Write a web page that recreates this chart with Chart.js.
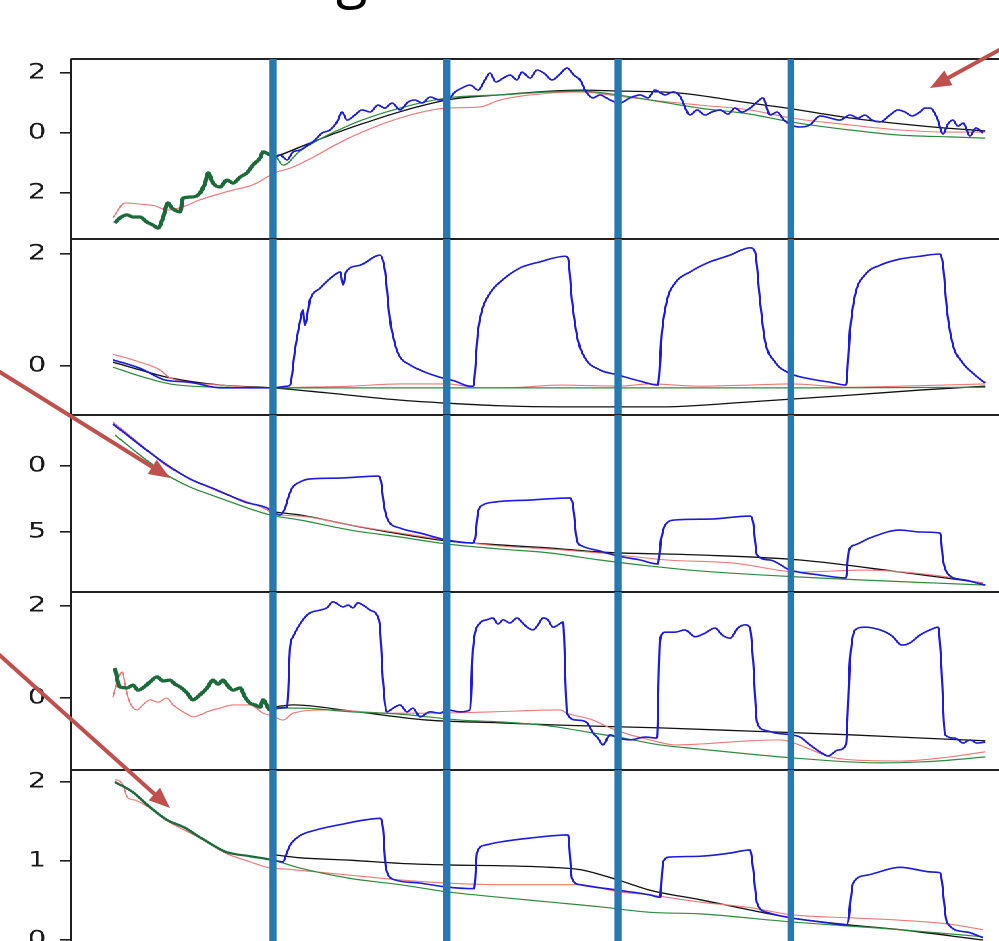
<!DOCTYPE html>
<html><head><meta charset="utf-8">
<script src="https://cdn.jsdelivr.net/npm/chart.js@4.4.1/dist/chart.umd.min.js"></script>
<style>
html,body{margin:0;padding:0;background:#fff;overflow:hidden;width:999px;height:941px;}
#fig{position:absolute;left:0;top:0;width:740px;height:1000px;transform:scaleX(1.35);transform-origin:0 0;}
.panel{position:absolute;left:0;width:740px;}
#overlay{position:absolute;left:0;top:0;width:999px;height:941px;pointer-events:none;overflow:visible;}
</style></head><body>
<div id="fig"></div>
<svg id="overlay" width="999" height="941" viewBox="0 0 999 941"></svg>
<script>
// ---------- DATA ----------
const X_MIN = -29, X_MAX = 899;
const segmentX = [173, 347, 518, 691];

const p1Ticks = [2, 0, -2],  p1TickLabels = ['2', '0', '2'];
const p2Ticks = [2, 0],      p2TickLabels = ['2', '0'];
const p3Ticks = [0, -5],     p3TickLabels = ['0', '5'];
const p4Ticks = [2, 0],      p4TickLabels = ['2', '0'];
const p5Ticks = [2, 1, 0],   p5TickLabels = ['2', '1', '0'];

// Panel 1
const p1Green = [[15,-3.0],[20,-2.83],[27,-2.73],[33,-2.8],[40,-2.8],[47,-2.97],[53,-3.07],[58,-3.17],[63,-2.83],[68,-2.33],[72,-2.5],[80,-2.63],[83,-2.17],[93,-2.13],[100,-2.0],[105,-1.67],[108,-1.33],[113,-1.67],[120,-1.8],[127,-1.57],[133,-1.67],[140,-1.47],[147,-1.33],[153,-1.07],[160,-0.83],[163,-0.63],[170,-0.73],[177,-0.83],[183,-1.07],[200,-0.6],[250,0.27],[300,0.83],[347,1.17],[400,1.27],[450,1.37],[480,1.4],[518,1.27],[550,1.1],[600,0.83],[650,0.63],[691,0.37],[750,0.1],[800,-0.07],[850,-0.13],[885,-0.17]];
const p1Red = [[13,-2.83],[25,-2.33],[40,-2.37],[55,-2.43],[67,-2.57],[82,-2.47],[100,-2.23],[133,-1.9],[153,-1.73],[167,-1.47],[177,-1.3],[190,-1.17],[200,-1.03],[250,-0.15],[300,0.5],[347,0.83],[380,0.87],[400,1.1],[450,1.33],[480,1.37],[518,1.23],[550,1.1],[600,0.93],[650,0.77],[691,0.5],[750,0.27],[800,0.1],[850,0.03],[885,0.03]];
const p1Black = [[173,-0.83],[250,0.17],[347,1.1],[400,1.27],[480,1.43],[518,1.4],[580,1.33],[650,1.0],[687,0.83],[750,0.5],[833,0.2],[885,0.07]];
const p1Blue = [[173,-0.83],[180,-0.73],[187,-0.9],[193,-0.63],[200,-0.57],[208,-0.4],[215,-0.23],[222,0.0],[230,0.1],[237,0.37],[242,0.7],[247,0.43],[255,0.6],[262,0.77],[270,0.7],[278,0.93],[285,0.83],[292,1.0],[300,0.77],[308,1.03],[315,1.1],[322,1.0],[330,1.2],[340,1.1],[347,1.1],[355,1.37],[362,1.5],[370,1.6],[378,1.43],[385,1.77],[390,2.0],[396,1.7],[403,1.83],[410,1.93],[417,1.77],[422,2.03],[430,1.83],[437,2.1],[445,1.97],[452,1.77],[460,1.97],[467,2.17],[474,1.93],[480,1.77],[486,1.37],[493,1.17],[500,1.27],[510,1.1],[520,1.0],[530,1.17],[540,1.27],[548,1.17],[555,1.43],[565,1.27],[573,1.37],[580,1.23],[590,0.6],[597,0.77],[605,0.6],[612,0.7],[620,0.77],[628,0.63],[635,0.83],[642,0.7],[650,0.83],[657,1.03],[663,1.17],[670,0.6],[677,0.7],[684,0.43],[691,0.27],[700,0.2],[710,0.27],[720,0.57],[730,0.5],[740,0.43],[750,0.6],[758,0.5],[765,0.6],[772,0.43],[780,0.37],[790,0.6],[798,0.77],[805,0.7],[812,0.57],[820,0.7],[825,0.83],[830,0.83],[837,0.5],[843,-0.03],[848,0.3],[853,0.43],[858,0.23],[863,0.33],[870,-0.1],[876,0.17],[883,0.0]];

// Panel 2
const p2Green = [[13,-0.02],[40,-0.18],[70,-0.32],[120,-0.38],[173,-0.39],[300,-0.39],[500,-0.39],[700,-0.39],[885,-0.38]];
const p2Black = [[13,0.07],[40,-0.07],[67,-0.2],[120,-0.34],[173,-0.39],[227,-0.48],[300,-0.61],[343,-0.66],[400,-0.71],[460,-0.73],[560,-0.73],[650,-0.64],[750,-0.52],[820,-0.43],[885,-0.36]];
const p2Red = [[13,0.21],[40,0.07],[60,-0.07],[70,-0.21],[120,-0.34],[173,-0.39],[200,-0.38],[250,-0.36],[300,-0.32],[347,-0.32],[380,-0.39],[420,-0.38],[460,-0.34],[518,-0.36],[550,-0.32],[600,-0.36],[650,-0.34],[691,-0.32],[750,-0.38],[800,-0.36],[885,-0.32]];
const p2Blue = [[13,0.11],[40,-0.04],[65,-0.25],[90,-0.29],[120,-0.39],[173,-0.39],[187,-0.36],[190,-0.34],[195,0.29],[200,0.79],[203,1.0],[205,0.73],[210,1.18],[220,1.39],[235,1.63],[240,1.68],[243,1.45],[246,1.68],[260,1.8],[280,1.98],[285,1.71],[290,0.82],[295,0.38],[300,0.16],[310,0.02],[325,-0.11],[340,-0.2],[355,-0.27],[370,-0.36],[373,-0.36],[378,0.64],[382,1.0],[390,1.3],[400,1.5],[420,1.75],[440,1.86],[465,1.96],[468,1.93],[472,1.18],[478,0.46],[485,0.14],[500,-0.07],[518,-0.16],[540,-0.27],[558,-0.34],[562,0.64],[567,1.18],[575,1.48],[590,1.68],[610,1.86],[630,1.98],[650,2.11],[655,2.04],[660,1.18],[665,0.46],[675,0.07],[691,-0.14],[710,-0.23],[730,-0.29],[746,-0.34],[750,0.64],[755,1.27],[765,1.63],[780,1.8],[800,1.91],[820,1.96],[840,2.0],[843,1.8],[847,1.0],[853,0.38],[862,0.07],[875,-0.16],[885,-0.3]];

// Panel 3
const p3Green = [[15,2.35],[40,0.83],[67,-0.68],[90,-1.59],[117,-2.35],[145,-3.11],[170,-3.71],[200,-4.09],[250,-4.85],[300,-5.38],[347,-5.91],[400,-6.29],[450,-6.59],[500,-7.12],[550,-7.58],[600,-7.95],[700,-8.41],[833,-8.86],[885,-9.02]];
const p3Black = [[173,-3.48],[200,-3.71],[250,-4.47],[300,-5.15],[347,-5.68],[400,-5.98],[450,-6.21],[500,-6.52],[600,-6.74],[700,-7.12],[800,-8.03],[883,-8.86]];
const p3Red = [[13,3.33],[40,1.67],[67,0.0],[117,-1.89],[167,-3.33],[173,-3.64],[200,-3.79],[250,-4.47],[300,-5.08],[347,-5.61],[400,-6.06],[450,-6.29],[500,-6.59],[567,-7.12],[633,-7.35],[700,-8.03],[767,-7.88],[833,-8.26],[883,-8.86]];
const p3Blue = [[13,3.18],[40,1.59],[67,0.08],[90,-0.98],[117,-1.82],[145,-2.73],[167,-3.18],[173,-3.48],[180,-3.71],[185,-3.18],[188,-2.42],[192,-1.67],[200,-1.21],[210,-0.98],[240,-0.91],[278,-0.76],[281,-1.14],[284,-2.95],[288,-4.09],[300,-4.7],[320,-5.08],[347,-5.61],[372,-5.83],[375,-5.45],[378,-3.48],[383,-2.95],[395,-2.73],[430,-2.58],[470,-2.42],[473,-2.95],[477,-5.61],[482,-6.06],[500,-6.44],[518,-6.82],[540,-7.12],[558,-7.42],[561,-5.61],[565,-4.47],[575,-4.09],[610,-4.02],[650,-3.79],[653,-4.24],[657,-6.74],[670,-7.12],[690,-7.88],[720,-8.26],[746,-8.48],[749,-6.36],[755,-5.98],[770,-5.45],[800,-4.85],[820,-5.0],[840,-5.08],[843,-7.12],[848,-8.18],[865,-8.64],[885,-9.02]];

// Panel 4
const p4Green = [[15,0.65],[20,0.24],[27,0.22],[33,0.28],[38,0.17],[43,0.22],[50,0.35],[57,0.46],[63,0.37],[70,0.39],[75,0.3],[80,0.24],[87,0.11],[93,-0.04],[100,0.07],[107,0.22],[113,0.39],[118,0.3],[123,0.39],[128,0.26],[133,0.17],[140,0.22],[145,0.02],[150,-0.11],[155,-0.15],[160,-0.2],[163,-0.04],[170,-0.26],[183,-0.22],[200,-0.22],[250,-0.3],[300,-0.35],[360,-0.48],[400,-0.52],[450,-0.61],[493,-0.76],[518,-0.85],[560,-1.02],[600,-1.11],[650,-1.22],[691,-1.3],[750,-1.39],[780,-1.41],[820,-1.39],[850,-1.35],[885,-1.28]];
const p4Black = [[173,-0.2],[193,-0.15],[250,-0.28],[327,-0.48],[400,-0.54],[460,-0.59],[560,-0.65],[650,-0.72],[750,-0.8],[820,-0.87],[885,-0.93]];
const p4Red = [[13,0.02],[18,0.39],[22,0.57],[26,0.17],[30,-0.11],[37,-0.26],[43,-0.15],[50,-0.04],[58,-0.09],[67,0.0],[73,-0.15],[80,-0.26],[87,-0.35],[93,-0.41],[100,-0.37],[107,-0.3],[120,-0.22],[133,-0.15],[150,-0.15],[163,-0.33],[173,-0.39],[183,-0.48],[193,-0.33],[227,-0.26],[293,-0.33],[327,-0.33],[393,-0.3],[460,-0.26],[467,-0.33],[493,-0.48],[510,-0.65],[530,-0.8],[550,-0.91],[575,-1.02],[600,-1.0],[650,-0.93],[680,-0.91],[705,-1.07],[730,-1.28],[755,-1.35],[800,-1.37],[850,-1.28],[885,-1.17]];
const p4Blue = [[173,-0.22],[187,-0.2],[190,1.11],[193,1.33],[203,1.7],[210,1.85],[220,1.91],[227,1.96],[233,2.09],[243,1.98],[248,2.02],[253,1.96],[258,2.07],[263,2.02],[270,1.91],[277,1.8],[280,1.54],[283,0.39],[287,-0.3],[293,-0.22],[300,-0.15],[307,-0.3],[313,-0.22],[320,-0.41],[330,-0.3],[340,-0.33],[347,-0.26],[360,-0.3],[370,-0.26],[373,1.11],[380,1.63],[387,1.7],[393,1.74],[398,1.61],[403,1.7],[410,1.63],[417,1.74],[422,1.65],[427,1.54],[433,1.48],[438,1.59],[443,1.74],[448,1.7],[453,1.54],[458,1.59],[463,1.65],[467,-0.33],[477,-0.48],[487,-0.54],[493,-0.76],[498,-0.87],[503,-1.02],[510,-0.8],[518,-0.87],[530,-0.91],[545,-0.85],[557,-0.87],[560,1.26],[565,1.43],[575,1.43],[585,1.48],[595,1.33],[605,1.41],[615,1.52],[622,1.37],[630,1.3],[638,1.52],[645,1.59],[650,1.52],[653,0.83],[657,-0.52],[665,-0.7],[675,-0.76],[691,-0.8],[700,-0.85],[710,-1.02],[720,-1.17],[728,-1.26],[738,-1.13],[746,-1.02],[750,0.83],[755,1.48],[765,1.54],[780,1.48],[792,1.35],[802,1.15],[810,1.2],[820,1.37],[830,1.48],[838,1.54],[841,0.83],[845,-0.8],[855,-0.87],[863,-0.98],[870,-0.91],[877,-0.98],[885,-0.96]];

// Panel 5
const p5Green = [[15,2.0],[33,1.87],[50,1.68],[67,1.52],[85,1.42],[100,1.3],[113,1.2],[127,1.11],[150,1.06],[173,1.01],[200,0.91],[250,0.78],[300,0.7],[347,0.61],[400,0.54],[450,0.48],[500,0.42],[550,0.35],[600,0.33],[690,0.23],[800,0.13],[883,0.04]];
const p5Red = [[15,2.03],[20,2.01],[23,1.96],[27,1.81],[35,1.77],[50,1.67],[67,1.51],[100,1.29],[127,1.09],[150,0.99],[167,0.92],[193,0.89],[250,0.82],[300,0.76],[347,0.72],[400,0.7],[480,0.7],[518,0.61],[550,0.57],[600,0.48],[650,0.41],[691,0.32],[750,0.28],[800,0.25],[850,0.2],[883,0.13]];
const p5Black = [[173,1.08],[200,1.04],[250,1.01],[300,0.97],[347,0.95],[400,0.94],[450,0.92],[480,0.89],[518,0.76],[550,0.63],[600,0.51],[650,0.38],[691,0.28],[750,0.19],[800,0.13],[883,0.0]];
const p5Blue = [[173,1.01],[183,0.99],[186,1.08],[190,1.2],[200,1.32],[215,1.39],[240,1.46],[265,1.52],[280,1.54],[283,1.42],[286,0.91],[295,0.76],[320,0.72],[347,0.67],[374,0.65],[377,1.11],[385,1.2],[400,1.24],[430,1.29],[468,1.33],[472,0.78],[480,0.7],[518,0.63],[550,0.57],[560,0.54],[563,0.99],[570,1.05],[600,1.06],[630,1.1],[650,1.14],[653,0.91],[657,0.47],[667,0.35],[691,0.28],[720,0.23],[747,0.19],[753,0.72],[767,0.82],[800,0.92],[833,0.86],[840,0.85],[847,0.22],[867,0.1],[883,0.03]];

// ---------- LAYOUT ----------
const K = 1.35;               // horizontal stretch of the figure
const W = 740;                // canvas width before stretch (999/K)
const AXIS_W = 71 / K;
const M = 30;                 // canvas margin around each panel

const panels = [
  {top:59,  h:180, min:-3.533, max:2.467, ticks:p1Ticks, labels:p1TickLabels, blue:p1Blue, green:p1Green, red:p1Red, black:p1Black, thick:3.2},
  {top:239, h:176, min:-0.875, max:2.268, ticks:p2Ticks, labels:p2TickLabels, blue:p2Blue, green:p2Green, red:p2Red, black:p2Black, thick:0},
  {top:415, h:177, min:-9.545, max:3.864, ticks:p3Ticks, labels:p3TickLabels, blue:p3Blue, green:p3Green, red:p3Red, black:p3Black, thick:0},
  {top:592, h:178, min:-1.565, max:2.304, ticks:p4Ticks, labels:p4TickLabels, blue:p4Blue, green:p4Green, red:p4Red, black:p4Black, thick:3.2},
  {top:770, h:177, min:-0.089, max:2.152, ticks:p5Ticks, labels:p5TickLabels, blue:p5Blue, green:p5Green, red:p5Red, black:p5Black, thick:2.2}
];

const toXY = arr => arr.map(([x, y]) => ({x, y}));

const panelPlugin = {
  id: 'panelDecor',
  afterDatasetsDraw(chart) {
    const {ctx, chartArea: a, scales: {x}} = chart;
    ctx.save();
    ctx.strokeStyle = '#222';
    ctx.lineWidth = 2;
    ctx.beginPath(); ctx.moveTo(a.left, a.top); ctx.lineTo(a.right, a.top); ctx.stroke();
    ctx.strokeStyle = '#2777b0';
    ctx.lineWidth = 7 / K;
    segmentX.forEach(v => {
      const px = x.getPixelForValue(v);
      ctx.beginPath(); ctx.moveTo(px, a.top); ctx.lineTo(px, a.bottom); ctx.stroke();
    });
    ctx.restore();
  }
};

const fig = document.getElementById('fig');
panels.forEach(p => {
  const div = document.createElement('div');
  div.className = 'panel';
  div.style.top = (p.top - M) + 'px';
  div.style.height = (p.h + 2 * M) + 'px';
  const c = document.createElement('canvas');
  c.width = W; c.height = p.h + 2 * M;
  div.appendChild(c); fig.appendChild(div);

  const base = {pointRadius: 0, fill: false, cubicInterpolationMode: 'monotone'};
  new Chart(c, {
    type: 'line',
    data: {
      datasets: [
        {...base, label: 'blue', data: toXY(p.blue), borderColor: '#1c1ce0', borderWidth: 1.6},
        {...base, label: 'green', data: toXY(p.green), borderColor: '#2e8b3e', borderWidth: 1.2,
          segment: {
            borderWidth: ctx => (p.thick && ctx.p1.parsed.x <= 180) ? p.thick : 1.2,
            borderColor: ctx => (p.thick && ctx.p1.parsed.x <= 180) ? '#1d6b3b' : '#2e8b3e'
          }},
        {...base, label: 'red', data: toXY(p.red), borderColor: '#f07878', borderWidth: 1.1},
        {...base, label: 'black', data: toXY(p.black), borderColor: '#111111', borderWidth: 1.3}
      ]
    },
    options: {
      responsive: false,
      animation: false,
      devicePixelRatio: 2,
      layout: {padding: {top: M, bottom: M, left: 0, right: 0}},
      plugins: {legend: {display: false}, tooltip: {enabled: false}},
      events: [],
      scales: {
        x: {type: 'linear', min: X_MIN, max: X_MAX, display: false},
        y: {
          type: 'linear', min: p.min, max: p.max,
          afterBuildTicks: s => { s.ticks = p.ticks.map(v => ({value: v})); },
          afterFit: s => { s.width = AXIS_W; },
          ticks: {
            autoSkip: false,
            callback: (v, i) => p.labels[i],
            font: {family: 'DejaVu Sans', size: 21},
            color: '#1a1a1a',
            padding: 14 / K
          },
          grid: {display: true, drawOnChartArea: false, drawTicks: true, tickLength: 11 / K, lineWidth: 1.6, color: '#1e1e1e'},
          border: {display: true, color: '#1e1e1e', width: 1.6 / K}
        }
      }
    },
    plugins: [panelPlugin]
  });
});

// ---------- ANNOTATIONS (title fragment and arrows) ----------
const arrows = [[1012, 43, 930, 88], [-5, 369, 170, 478], [-5, 651, 170, 808]];
const svgNS = 'http://www.w3.org/2000/svg';
const svg = document.getElementById('overlay');
const title = document.createElementNS(svgNS, 'text');
title.setAttribute('x', '336'); title.setAttribute('y', '-4');
title.setAttribute('font-family', 'Open Sans'); title.setAttribute('font-size', '58');
title.setAttribute('fill', '#000');
title.textContent = 'g';
svg.appendChild(title);
arrows.forEach(([x1, y1, x2, y2]) => {
  const dx = x2 - x1, dy = y2 - y1, L = Math.hypot(dx, dy);
  const ux = dx / L, uy = dy / L, hl = 21, hw = 8.5;
  const bx = x2 - ux * hl, by = y2 - uy * hl;
  const line = document.createElementNS(svgNS, 'line');
  line.setAttribute('x1', x1); line.setAttribute('y1', y1);
  line.setAttribute('x2', bx + ux * 2); line.setAttribute('y2', by + uy * 2);
  line.setAttribute('stroke', '#c0504d'); line.setAttribute('stroke-width', '4');
  svg.appendChild(line);
  const head = document.createElementNS(svgNS, 'polygon');
  head.setAttribute('points', `${x2},${y2} ${bx - uy * hw},${by + ux * hw} ${bx + uy * hw},${by - ux * hw}`);
  head.setAttribute('fill', '#c0504d');
  svg.appendChild(head);
});
</script>
</body></html>
